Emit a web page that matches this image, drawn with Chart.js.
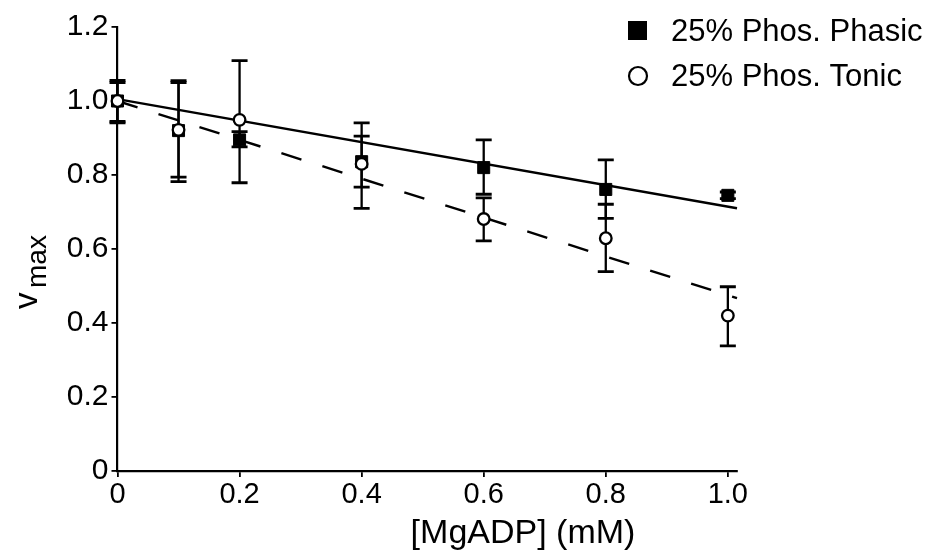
<!DOCTYPE html>
<html><head><meta charset="utf-8">
<script src="https://cdn.jsdelivr.net/npm/chart.js@4"></script>
<style>html,body{margin:0;padding:0;background:#fff;}canvas{display:block;}</style>
</head><body>
<canvas id="c" width="934" height="554"></canvas>
<script>
// ---- data ----
const concentrations = [0, 0.1, 0.2, 0.4, 0.6, 0.8, 1.0];
const phasicV    = [1.0, 0.92, 0.895, 0.836, 0.82, 0.761, 0.745];
const phasicLow  = [0.941, 0.782, 0.876, 0.767, 0.748, 0.683, 0.736];
const phasicHigh = [1.056, 1.055, 0.917, 0.905, 0.895, 0.841, 0.754];
const tonicV     = [1.0, 0.922, 0.949, 0.83, 0.681, 0.629, 0.42];
const tonicLow   = [0.945, 0.794, 0.779, 0.71, 0.622, 0.539, 0.338];
const tonicHigh  = [1.05, 1.05, 1.109, 0.941, 0.738, 0.721, 0.498];
const fitX       = [0, 1.015];
const phasicFit  = [1.005, 0.71];
const tonicFit   = [1.0, 0.467];
const xTicks = [0, 0.2, 0.4, 0.6, 0.8, 1.0];
const xTickLabels = ['0', '0.2', '0.4', '0.6', '0.8', '1.0'];
const yTicks = [0, 0.2, 0.4, 0.6, 0.8, 1.0, 1.2];
const yTickLabels = ['0', '0.2', '0.4', '0.6', '0.8', '1.0', '1.2'];
const seriesLabels = ['25% Phos. Phasic', '25% Phos. Tonic'];
const xTitle = '[MgADP] (mM)';
const yTitleMain = 'v';
const yTitleSub = 'max';

const FONT = "'Liberation Sans', Arial, Helvetica, sans-serif";
Chart.defaults.font.family = FONT;
Chart.defaults.color = '#000';

const pts = (xs, ys) => xs.map((x, i) => ({x: x, y: ys[i]}));

const errorBars = {
  id: 'errorBars',
  beforeDatasetDraw(chart, args) {
    const ds = chart.data.datasets[args.index];
    if (!ds.errLow) return;
    const ctx = chart.ctx, xs = chart.scales.x, ys = chart.scales.y;
    ctx.save();
    ctx.strokeStyle = '#000';
    ctx.lineCap = 'butt';
    concentrations.forEach((c, i) => {
      const px = xs.getPixelForValue(c);
      const yl = ys.getPixelForValue(ds.errLow[i]);
      const yh = ys.getPixelForValue(ds.errHigh[i]);
      ctx.lineWidth = 2.3;
      ctx.beginPath(); ctx.moveTo(px, yl); ctx.lineTo(px, yh); ctx.stroke();
      ctx.lineWidth = 2.8;
      ctx.beginPath();
      ctx.moveTo(px - 8, yl); ctx.lineTo(px + 8, yl);
      ctx.moveTo(px - 8, yh); ctx.lineTo(px + 8, yh);
      ctx.stroke();
    });
    ctx.restore();
  }
};

const texts = {
  id: 'texts',
  afterDraw(chart) {
    const ctx = chart.ctx;
    ctx.save();
    ctx.fillStyle = '#000';
    // x title
    ctx.font = '34px ' + FONT;
    ctx.textAlign = 'center';
    ctx.textBaseline = 'alphabetic';
    ctx.fillText(xTitle, 523, 543);
    // y title (rotated, with subscript)
    ctx.save();
    ctx.translate(37, 309);
    ctx.rotate(-Math.PI / 2);
    ctx.textAlign = 'left';
    ctx.font = '33px ' + FONT;
    ctx.fillText(yTitleMain, 0, 0);
    ctx.font = '28px ' + FONT;
    ctx.fillText(yTitleSub, 21, 9);
    ctx.restore();
    // legend
    ctx.font = '31px ' + FONT;
    ctx.textAlign = 'left';
    ctx.fillRect(628, 21, 19, 19);
    ctx.fillText(seriesLabels[0], 671, 41);
    ctx.beginPath();
    ctx.arc(638, 76, 9, 0, Math.PI * 2);
    ctx.fillStyle = '#fff'; ctx.fill();
    ctx.lineWidth = 2.2; ctx.strokeStyle = '#000'; ctx.stroke();
    ctx.fillStyle = '#000';
    ctx.fillText(seriesLabels[1], 671, 86);
    ctx.restore();
  }
};

new Chart(document.getElementById('c'), {
  data: {
    datasets: [
      { type: 'scatter', label: seriesLabels[0], data: pts(concentrations, phasicV),
        errLow: phasicLow, errHigh: phasicHigh,
        pointStyle: 'rect', pointRadius: 8.5, backgroundColor: '#000', borderColor: '#000',
        borderWidth: 1, order: 1, clip: false },
      { type: 'scatter', label: seriesLabels[1], data: pts(concentrations, tonicV),
        errLow: tonicLow, errHigh: tonicHigh,
        pointStyle: 'circle', pointRadius: 5.8, backgroundColor: '#fff', borderColor: '#000',
        borderWidth: 2.3, order: 0, clip: false },
      { type: 'line', label: 'Phasic fit', data: pts(fitX, phasicFit), borderColor: '#000',
        borderWidth: 2.4, pointRadius: 0, fill: false, tension: 0, order: 2, clip: false },
      { type: 'line', label: 'Tonic fit', data: pts(fitX, tonicFit), borderColor: '#000',
        borderWidth: 2.4, borderDash: [21, 22], pointRadius: 0, fill: false, tension: 0, order: 2, clip: false }
    ]
  },
  options: {
    responsive: false,
    devicePixelRatio: 1,
    animation: false,
    layout: { padding: { top: 27, right: 197, bottom: 0, left: 0 } },
    plugins: { legend: { display: false }, tooltip: { enabled: false } },
    scales: {
      x: {
        type: 'linear', min: 0, max: 1.015,
        afterBuildTicks: s => { s.ticks = xTicks.map(v => ({value: v})); },
        afterFit: s => { s.height = 83; },
        ticks: { callback: (v) => xTickLabels[xTicks.findIndex(t => Math.abs(t - v) < 1e-6)],
                 font: { size: 29 }, color: '#000', padding: 1, maxRotation: 0, autoSkip: false },
        grid: { drawOnChartArea: false, drawTicks: true, tickLength: 6, color: '#000', lineWidth: 1.8 },
        border: { display: true, color: '#000', width: 2.2 }
      },
      y: {
        type: 'linear', min: 0, max: 1.2,
        afterBuildTicks: s => { s.ticks = yTicks.map(v => ({value: v})); },
        afterFit: s => { s.width = 117.5; },
        ticks: { callback: (v) => yTickLabels[yTicks.findIndex(t => Math.abs(t - v) < 1e-6)],
                 font: { size: 30 }, color: '#000', padding: 3, autoSkip: false },
        grid: { drawOnChartArea: false, drawTicks: true, tickLength: 6, color: '#000', lineWidth: 1.8 },
        border: { display: true, color: '#000', width: 2.2 }
      }
    }
  },
  plugins: [errorBars, texts]
});
</script>
</body></html>
